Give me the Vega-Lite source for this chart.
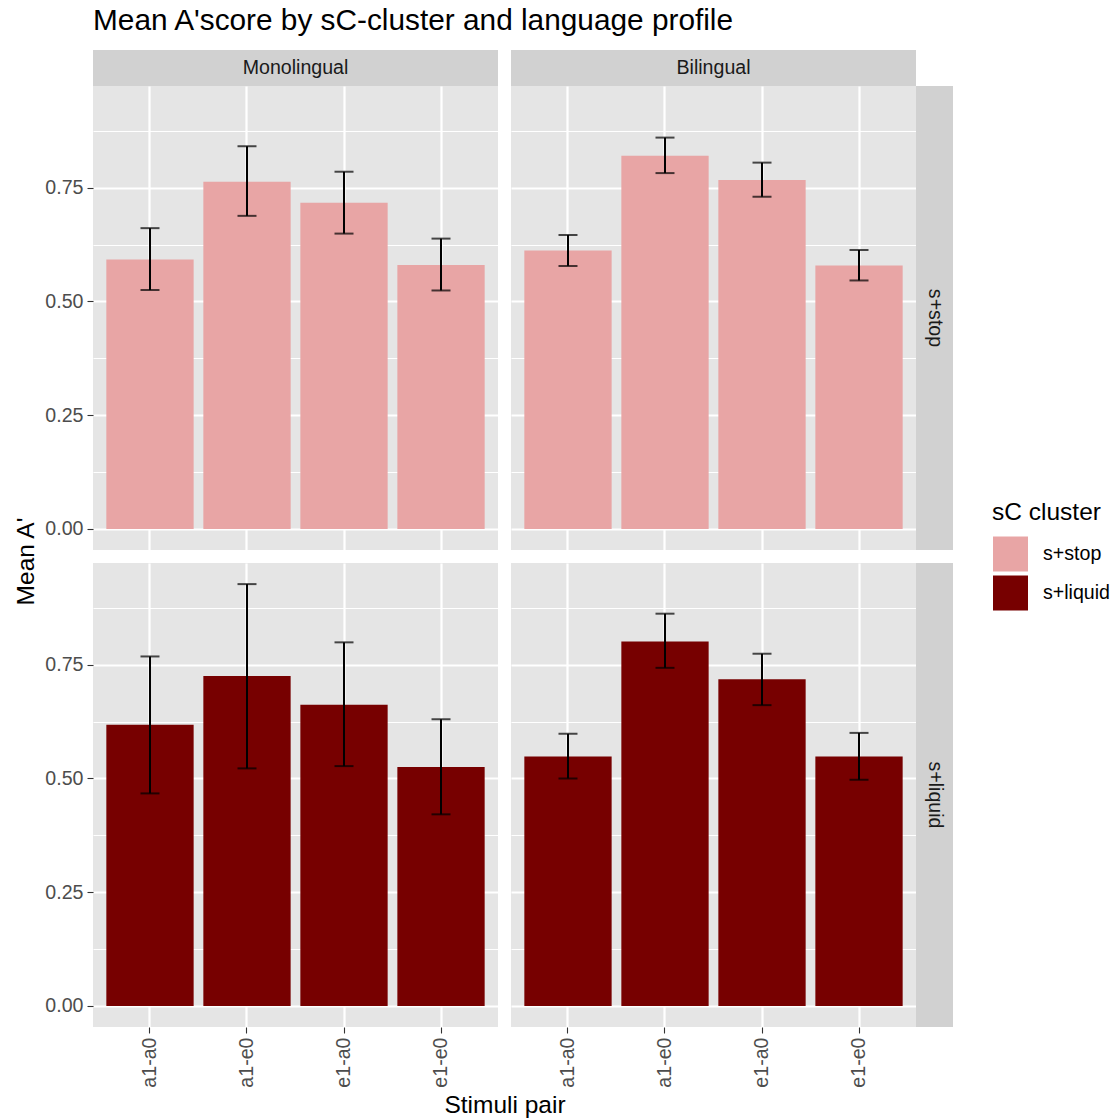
{
  "$schema": "https://vega.github.io/schema/vega-lite/v6.json",
  "padding": {"left": 13, "top": 6, "right": 5, "bottom": 2},
  "title": {"text": "Mean A'score by sC-cluster and language profile", "anchor": "start", "frame": "group", "fontSize": 29.8, "fontWeight": "normal", "color": "#000000", "offset": 14, "font": "Liberation Sans"},
  "datasets": {
    "d": [
      {"profile": "Monolingual", "cluster": "s+stop", "pair": "a1-a0", "mean": 0.592, "lo": 0.525, "hi": 0.661},
      {"profile": "Monolingual", "cluster": "s+stop", "pair": "a1-e0", "mean": 0.763, "lo": 0.688, "hi": 0.841},
      {"profile": "Monolingual", "cluster": "s+stop", "pair": "e1-a0", "mean": 0.717, "lo": 0.649, "hi": 0.785},
      {"profile": "Monolingual", "cluster": "s+stop", "pair": "e1-e0", "mean": 0.580, "lo": 0.524, "hi": 0.638},
      {"profile": "Bilingual", "cluster": "s+stop", "pair": "a1-a0", "mean": 0.612, "lo": 0.578, "hi": 0.646},
      {"profile": "Bilingual", "cluster": "s+stop", "pair": "a1-e0", "mean": 0.820, "lo": 0.782, "hi": 0.860},
      {"profile": "Bilingual", "cluster": "s+stop", "pair": "e1-a0", "mean": 0.767, "lo": 0.730, "hi": 0.805},
      {"profile": "Bilingual", "cluster": "s+stop", "pair": "e1-e0", "mean": 0.579, "lo": 0.546, "hi": 0.613},
      {"profile": "Monolingual", "cluster": "s+liquid", "pair": "a1-a0", "mean": 0.618, "lo": 0.467, "hi": 0.768},
      {"profile": "Monolingual", "cluster": "s+liquid", "pair": "a1-e0", "mean": 0.725, "lo": 0.522, "hi": 0.927},
      {"profile": "Monolingual", "cluster": "s+liquid", "pair": "e1-a0", "mean": 0.662, "lo": 0.527, "hi": 0.799},
      {"profile": "Monolingual", "cluster": "s+liquid", "pair": "e1-e0", "mean": 0.525, "lo": 0.421, "hi": 0.630},
      {"profile": "Bilingual", "cluster": "s+liquid", "pair": "a1-a0", "mean": 0.548, "lo": 0.500, "hi": 0.598},
      {"profile": "Bilingual", "cluster": "s+liquid", "pair": "a1-e0", "mean": 0.801, "lo": 0.743, "hi": 0.862},
      {"profile": "Bilingual", "cluster": "s+liquid", "pair": "e1-a0", "mean": 0.718, "lo": 0.661, "hi": 0.774},
      {"profile": "Bilingual", "cluster": "s+liquid", "pair": "e1-e0", "mean": 0.548, "lo": 0.497, "hi": 0.600}
    ]
  },
  "bounds": "flush",
  "align": "each",
  "spacing": 0,
  "columns": 4,
  "concat": [
    {"width": 405, "height": 36, "data": {"values": [{"t": "Monolingual"}]}, "view": {"fill": "#D1D1D1", "stroke": null},
     "mark": {"type": "text", "fontSize": 19.6, "color": "#1A1A1A", "align": "center", "baseline": "middle", "font": "Liberation Sans"},
     "encoding": {"text": {"field": "t", "type": "nominal"}}},
    {"width": 13, "height": 13, "data": {"values": []}, "mark": "point"},
    {"width": 405, "height": 36, "data": {"values": [{"t": "Bilingual"}]}, "view": {"fill": "#D1D1D1", "stroke": null},
     "mark": {"type": "text", "fontSize": 19.6, "color": "#1A1A1A", "align": "center", "baseline": "middle", "font": "Liberation Sans"},
     "encoding": {"text": {"field": "t", "type": "nominal"}}},
    {"width": 13, "height": 13, "data": {"values": []}, "mark": "point"},

    {
      "width": 405, "height": 464,
      "data": {"name": "d"},
      "transform": [{"filter": "datum.profile == 'Monolingual' && datum.cluster == 's+stop'"}],
      "view": {"fill": "#E5E5E5", "stroke": null},
      "encoding": {
        "x": {"field": "pair", "type": "nominal", "sort": ["a1-a0", "a1-e0", "e1-a0", "e1-e0"],
              "scale": {"type": "band", "paddingInner": 0.1, "paddingOuter": 0.1375},
              "axis": {"labels": false, "ticks": false, "title": null, "grid": true, "bandPosition": 0.5, "gridWidth": 2.2}}
      },
      "layer": [
        {"mark": {"type": "bar"},
         "encoding": {
           "y": {"field": "mean", "type": "quantitative", "scale": {"domain": [-0.0464, 0.9734], "nice": false, "zero": false},
                 "axis": {"title": "Mean A'", "titleY": 475, "titlePadding": 6, "values": [0, 0.125, 0.25, 0.375, 0.5, 0.625, 0.75, 0.875],
                          "labelExpr": "datum.value % 0.25 == 0 ? format(datum.value, '.2f') : ''",
                          "grid": true,
                          "gridWidth": {"condition": {"test": "datum.value % 0.25 == 0", "value": 2.2}, "value": 1.1},
                          "tickOpacity": {"condition": {"test": "datum.value % 0.25 == 0", "value": 1}, "value": 0}}},
           "y2": {"datum": 0},
           "color": {"field": "cluster", "type": "nominal", "scale": {"domain": ["s+stop", "s+liquid"], "range": ["#E8A5A5", "#770000"]},
                     "legend": {"title": "sC cluster", "orient": "none", "legendX": 899, "legendY": 451, "symbolType": "square", "symbolSize": 1296, "symbolStrokeColor": "#FFFFFF", "symbolStrokeWidth": 1, "titleFontSize": 24.5, "titleFontWeight": "normal", "titleColor": "#000000", "labelFontSize": 19.6, "labelColor": "#000000", "labelOffset": 14, "rowPadding": -2, "titlePadding": 10}}
         }},
        {"mark": {"type": "rule", "color": "#000000", "strokeWidth": 2},
         "encoding": {"y": {"field": "lo", "type": "quantitative", "scale": {"domain": [-0.0464, 0.9734], "nice": false, "zero": false}}, "y2": {"field": "hi"}}},
        {"mark": {"type": "tick", "color": "#000000", "thickness": 2, "size": 19},
         "encoding": {"y": {"field": "lo", "type": "quantitative", "scale": {"domain": [-0.0464, 0.9734], "nice": false, "zero": false}}}},
        {"mark": {"type": "tick", "color": "#000000", "thickness": 2, "size": 19},
         "encoding": {"y": {"field": "hi", "type": "quantitative", "scale": {"domain": [-0.0464, 0.9734], "nice": false, "zero": false}}}}
      ]
    },
    {"width": 13, "height": 13, "data": {"values": []}, "mark": "point"},
    {
      "width": 405, "height": 464,
      "data": {"name": "d"},
      "transform": [{"filter": "datum.profile == 'Bilingual' && datum.cluster == 's+stop'"}],
      "view": {"fill": "#E5E5E5", "stroke": null},
      "encoding": {
        "x": {"field": "pair", "type": "nominal", "sort": ["a1-a0", "a1-e0", "e1-a0", "e1-e0"],
              "scale": {"type": "band", "paddingInner": 0.1, "paddingOuter": 0.1375},
              "axis": {"labels": false, "ticks": false, "title": null, "grid": true, "bandPosition": 0.5, "gridWidth": 2.2}}
      },
      "layer": [
        {"mark": {"type": "bar"},
         "encoding": {
           "y": {"field": "mean", "type": "quantitative", "scale": {"domain": [-0.0464, 0.9734], "nice": false, "zero": false},
                 "axis": {"title": null, "labels": false, "ticks": false, "values": [0, 0.125, 0.25, 0.375, 0.5, 0.625, 0.75, 0.875],
                          "grid": true,
                          "gridWidth": {"condition": {"test": "datum.value % 0.25 == 0", "value": 2.2}, "value": 1.1}}},
           "y2": {"datum": 0},
           "color": {"field": "cluster", "type": "nominal", "scale": {"domain": ["s+stop", "s+liquid"], "range": ["#E8A5A5", "#770000"]}}
         }},
        {"mark": {"type": "rule", "color": "#000000", "strokeWidth": 2},
         "encoding": {"y": {"field": "lo", "type": "quantitative", "scale": {"domain": [-0.0464, 0.9734], "nice": false, "zero": false}}, "y2": {"field": "hi"}}},
        {"mark": {"type": "tick", "color": "#000000", "thickness": 2, "size": 19},
         "encoding": {"y": {"field": "lo", "type": "quantitative", "scale": {"domain": [-0.0464, 0.9734], "nice": false, "zero": false}}}},
        {"mark": {"type": "tick", "color": "#000000", "thickness": 2, "size": 19},
         "encoding": {"y": {"field": "hi", "type": "quantitative", "scale": {"domain": [-0.0464, 0.9734], "nice": false, "zero": false}}}}
      ]
    },
    {"width": 37, "height": 464, "data": {"values": [{"t": "s+stop"}]}, "view": {"fill": "#D1D1D1", "stroke": null},
     "mark": {"type": "text", "fontSize": 19.6, "color": "#1A1A1A", "align": "center", "baseline": "middle", "angle": 90, "font": "Liberation Sans"},
     "encoding": {"text": {"field": "t", "type": "nominal"}}},

    {"width": 13, "height": 13, "data": {"values": []}, "mark": "point"},
    {"width": 13, "height": 13, "data": {"values": []}, "mark": "point"},
    {"width": 13, "height": 13, "data": {"values": []}, "mark": "point"},
    {"width": 13, "height": 13, "data": {"values": []}, "mark": "point"},

    {
      "width": 405, "height": 464,
      "data": {"name": "d"},
      "transform": [{"filter": "datum.profile == 'Monolingual' && datum.cluster == 's+liquid'"}],
      "view": {"fill": "#E5E5E5", "stroke": null},
      "encoding": {
        "x": {"field": "pair", "type": "nominal", "sort": ["a1-a0", "a1-e0", "e1-a0", "e1-e0"],
              "scale": {"type": "band", "paddingInner": 0.1, "paddingOuter": 0.1375},
              "axis": {"title": "Stimuli pair", "titleX": 411.5, "titlePadding": 6, "labelAngle": 270, "grid": true, "bandPosition": 0.5, "gridWidth": 2.2}}
      },
      "layer": [
        {"mark": {"type": "bar"},
         "encoding": {
           "y": {"field": "mean", "type": "quantitative", "scale": {"domain": [-0.0464, 0.9734], "nice": false, "zero": false},
                 "axis": {"title": null, "values": [0, 0.125, 0.25, 0.375, 0.5, 0.625, 0.75, 0.875],
                          "labelExpr": "datum.value % 0.25 == 0 ? format(datum.value, '.2f') : ''",
                          "grid": true,
                          "gridWidth": {"condition": {"test": "datum.value % 0.25 == 0", "value": 2.2}, "value": 1.1},
                          "tickOpacity": {"condition": {"test": "datum.value % 0.25 == 0", "value": 1}, "value": 0}}},
           "y2": {"datum": 0},
           "color": {"field": "cluster", "type": "nominal", "scale": {"domain": ["s+stop", "s+liquid"], "range": ["#E8A5A5", "#770000"]}}
         }},
        {"mark": {"type": "rule", "color": "#000000", "strokeWidth": 2},
         "encoding": {"y": {"field": "lo", "type": "quantitative", "scale": {"domain": [-0.0464, 0.9734], "nice": false, "zero": false}}, "y2": {"field": "hi"}}},
        {"mark": {"type": "tick", "color": "#000000", "thickness": 2, "size": 19},
         "encoding": {"y": {"field": "lo", "type": "quantitative", "scale": {"domain": [-0.0464, 0.9734], "nice": false, "zero": false}}}},
        {"mark": {"type": "tick", "color": "#000000", "thickness": 2, "size": 19},
         "encoding": {"y": {"field": "hi", "type": "quantitative", "scale": {"domain": [-0.0464, 0.9734], "nice": false, "zero": false}}}}
      ]
    },
    {"width": 13, "height": 13, "data": {"values": []}, "mark": "point"},
    {
      "width": 405, "height": 464,
      "data": {"name": "d"},
      "transform": [{"filter": "datum.profile == 'Bilingual' && datum.cluster == 's+liquid'"}],
      "view": {"fill": "#E5E5E5", "stroke": null},
      "encoding": {
        "x": {"field": "pair", "type": "nominal", "sort": ["a1-a0", "a1-e0", "e1-a0", "e1-e0"],
              "scale": {"type": "band", "paddingInner": 0.1, "paddingOuter": 0.1375},
              "axis": {"title": null, "labelAngle": 270, "grid": true, "bandPosition": 0.5, "gridWidth": 2.2}}
      },
      "layer": [
        {"mark": {"type": "bar"},
         "encoding": {
           "y": {"field": "mean", "type": "quantitative", "scale": {"domain": [-0.0464, 0.9734], "nice": false, "zero": false},
                 "axis": {"title": null, "labels": false, "ticks": false, "values": [0, 0.125, 0.25, 0.375, 0.5, 0.625, 0.75, 0.875],
                          "grid": true,
                          "gridWidth": {"condition": {"test": "datum.value % 0.25 == 0", "value": 2.2}, "value": 1.1}}},
           "y2": {"datum": 0},
           "color": {"field": "cluster", "type": "nominal", "scale": {"domain": ["s+stop", "s+liquid"], "range": ["#E8A5A5", "#770000"]}}
         }},
        {"mark": {"type": "rule", "color": "#000000", "strokeWidth": 2},
         "encoding": {"y": {"field": "lo", "type": "quantitative", "scale": {"domain": [-0.0464, 0.9734], "nice": false, "zero": false}}, "y2": {"field": "hi"}}},
        {"mark": {"type": "tick", "color": "#000000", "thickness": 2, "size": 19},
         "encoding": {"y": {"field": "lo", "type": "quantitative", "scale": {"domain": [-0.0464, 0.9734], "nice": false, "zero": false}}}},
        {"mark": {"type": "tick", "color": "#000000", "thickness": 2, "size": 19},
         "encoding": {"y": {"field": "hi", "type": "quantitative", "scale": {"domain": [-0.0464, 0.9734], "nice": false, "zero": false}}}}
      ]
    },
    {"width": 37, "height": 464, "data": {"values": [{"t": "s+liquid"}]}, "view": {"fill": "#D1D1D1", "stroke": null},
     "mark": {"type": "text", "fontSize": 19.6, "color": "#1A1A1A", "align": "center", "baseline": "middle", "angle": 90, "font": "Liberation Sans"},
     "encoding": {"text": {"field": "t", "type": "nominal"}}}
  ],
  "config": {
    "font": "Liberation Sans",
    "view": {"stroke": null},
    "axis": {"domain": false, "labelFont": "Liberation Sans", "labelFontSize": 19.6, "labelColor": "#4D4D4D", "tickColor": "#333333", "tickSize": 6, "tickWidth": 1.1, "labelPadding": 4, "gridColor": "#FFFFFF", "titleFont": "Liberation Sans", "titleFontSize": 24.5, "titleFontWeight": "normal", "titleColor": "#000000"},
    "legend": {"titleFont": "Liberation Sans", "labelFont": "Liberation Sans"}
  }
}
